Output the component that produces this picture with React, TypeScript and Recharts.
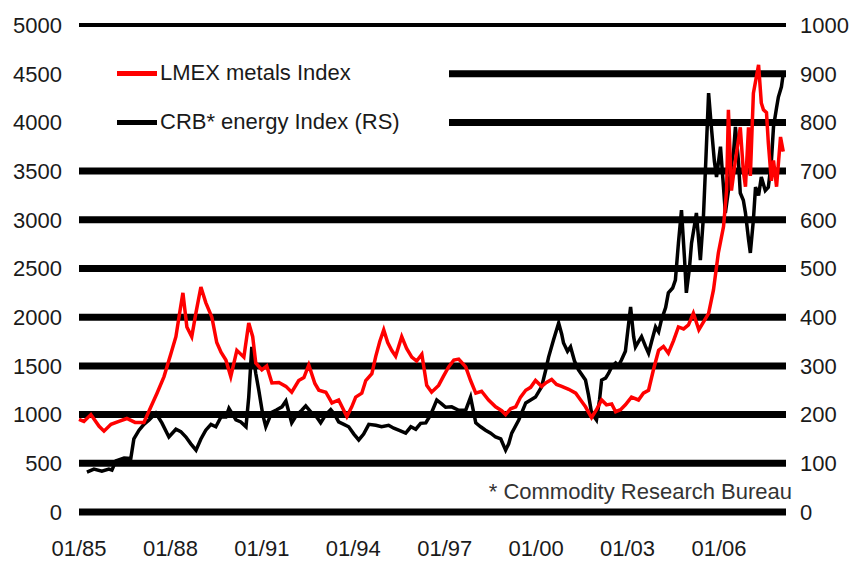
import React from "react";
import {
  LineChart,
  Line,
  XAxis,
  YAxis,
  CartesianGrid,
  Legend,
} from "recharts";

// LMEX metals index (left scale), sampled from the chart
const lmexYears = [
  1985.0, 1985.16, 1985.39, 1985.66, 1985.82, 1986.05, 1986.31, 1986.57, 1986.84, 1987.13,
  1987.36, 1987.56, 1987.79, 1988.02, 1988.18, 1988.28, 1988.41, 1988.54, 1988.7, 1988.84,
  1989.0, 1989.16, 1989.36, 1989.52, 1989.66, 1989.82, 1989.98, 1990.18, 1990.41, 1990.57,
  1990.7, 1990.8, 1991.0, 1991.16, 1991.33, 1991.56, 1991.79, 1991.98, 1992.21, 1992.38,
  1992.54, 1992.74, 1992.87, 1993.1, 1993.3, 1993.52, 1993.79, 1993.95, 1994.08, 1994.28,
  1994.41, 1994.61, 1994.74, 1994.87, 1995.0, 1995.13, 1995.26, 1995.39, 1995.59, 1995.75,
  1995.92, 1996.08, 1996.25, 1996.41, 1996.57, 1996.8, 1996.97, 1997.13, 1997.3, 1997.46,
  1997.69, 1997.85, 1998.02, 1998.21, 1998.44, 1998.67, 1998.87, 1999.0, 1999.16, 1999.33,
  1999.49, 1999.66, 1999.82, 1999.98, 2000.18, 2000.34, 2000.51, 2000.67, 2000.84, 2001.07,
  2001.3, 2001.46, 2001.62, 2001.82, 2001.98, 2002.15, 2002.31, 2002.48, 2002.61, 2002.77,
  2002.93, 2003.13, 2003.36, 2003.52, 2003.69, 2003.85, 2004.02, 2004.18, 2004.34, 2004.51,
  2004.67, 2004.84, 2005.0, 2005.16, 2005.34, 2005.49, 2005.66, 2005.82, 2005.98, 2006.15,
  2006.25, 2006.31, 2006.41, 2006.54, 2006.7, 2006.8, 2006.87, 2006.97, 2007.03, 2007.13,
  2007.3, 2007.39, 2007.46, 2007.56, 2007.62, 2007.72, 2007.79, 2007.89, 2008.02, 2008.11,
];
const lmexValues = [
  950, 930, 1000, 880, 830, 900, 930, 960, 920, 920,
  1080, 1220, 1390, 1630, 1800, 2000, 2250, 1900, 1800, 2050,
  2310, 2150, 2000, 1740, 1640, 1560, 1390, 1660, 1590, 1940,
  1800, 1530, 1460, 1500, 1325, 1330, 1290, 1230, 1350, 1380,
  1510, 1320, 1250, 1230, 1120, 1150, 980, 1080, 1180, 1220,
  1350, 1420, 1600, 1750, 1870, 1740, 1660, 1600, 1800, 1680,
  1590, 1550, 1620, 1300, 1230, 1300, 1400, 1490, 1560, 1570,
  1490, 1350, 1220, 1240, 1150, 1080, 1040, 1000, 1060, 1080,
  1180, 1250, 1280, 1350, 1290, 1330, 1360, 1310, 1290, 1260,
  1220, 1150, 1080, 970, 1050, 1150, 1100, 1110, 1030, 1050,
  1100, 1180, 1150, 1220, 1250, 1460, 1660, 1700, 1630, 1760,
  1900, 1880, 1920, 2040, 1870, 1950, 2040, 2280, 2660, 2930,
  3300, 4130, 3300, 3610, 3950, 3500, 3340, 3950, 3450, 4300,
  4590, 4200, 4130, 4100, 3790, 3400, 3610, 3340, 3850, 3700,
];

// CRB energy index (right scale)
const crbYears = [
  1985.26, 1985.49, 1985.75, 1985.98, 1986.08, 1986.21, 1986.48, 1986.7, 1986.8, 1986.97,
  1987.13, 1987.3, 1987.52, 1987.72, 1987.95, 1988.18, 1988.34, 1988.51, 1988.67, 1988.84,
  1989.0, 1989.16, 1989.33, 1989.49, 1989.66, 1989.82, 1989.92, 1990.15, 1990.31, 1990.48,
  1990.57, 1990.67, 1990.8, 1990.9, 1991.03, 1991.13, 1991.33, 1991.49, 1991.66, 1991.79,
  1991.98, 1992.15, 1992.31, 1992.44, 1992.64, 1992.8, 1992.93, 1993.1, 1993.26, 1993.39,
  1993.52, 1993.69, 1993.85, 1994.02, 1994.18, 1994.34, 1994.51, 1994.74, 1994.93, 1995.16,
  1995.33, 1995.49, 1995.72, 1995.89, 1996.05, 1996.21, 1996.38, 1996.54, 1996.74, 1996.9,
  1997.03, 1997.23, 1997.46, 1997.69, 1997.85, 1998.02, 1998.18, 1998.34, 1998.51, 1998.67,
  1998.84, 1999.0, 1999.1, 1999.2, 1999.43, 1999.66, 1999.82, 1999.98, 2000.18, 2000.31,
  2000.41, 2000.57, 2000.74, 2000.84, 2000.9, 2001.03, 2001.13, 2001.26, 2001.39, 2001.62,
  2001.72, 2001.82, 2001.98, 2002.08, 2002.15, 2002.28, 2002.38, 2002.48, 2002.61, 2002.7,
  2002.8, 2002.93, 2003.1, 2003.2, 2003.26, 2003.36, 2003.46, 2003.59, 2003.69, 2003.79,
  2003.92, 2004.02, 2004.11, 2004.25, 2004.34, 2004.48, 2004.57, 2004.67, 2004.77, 2004.87,
  2004.93, 2005.03, 2005.1, 2005.2, 2005.26, 2005.39, 2005.49, 2005.57, 2005.66, 2005.75,
  2005.85, 2005.92, 2006.05, 2006.11, 2006.21, 2006.31, 2006.38, 2006.48, 2006.54, 2006.64,
  2006.7, 2006.8, 2006.87, 2006.97, 2007.03, 2007.13, 2007.2, 2007.3, 2007.39, 2007.52,
  2007.62, 2007.72, 2007.79, 2007.89, 2007.95, 2008.05, 2008.11,
];
const crbValues = [
  82, 88, 84, 88, 86, 105, 111, 110, 150, 168,
  180, 189, 203, 183, 154, 170, 165, 154, 140, 127,
  150, 168, 180, 175, 195, 195, 213, 189, 185, 175,
  236, 339, 285, 250, 200, 175, 205, 210, 216, 228,
  183, 200, 209, 218, 203, 195, 183, 200, 210, 200,
  185, 180, 175, 160, 148, 160, 180, 178, 175, 178,
  172, 168, 162, 175, 170, 182, 183, 200, 230, 222,
  215, 216, 209, 209, 236, 183, 175, 168, 162, 154,
  150, 127, 140, 162, 189, 224, 230, 236, 257, 290,
  318, 353, 388, 365, 347, 330, 339, 310, 292, 271,
  240, 203, 189, 230, 271, 275, 285, 298, 306, 300,
  312, 330, 421, 360, 339, 350, 360, 340, 326, 350,
  380, 370, 394, 420, 450, 460, 476, 552, 620, 520,
  450, 500, 552, 590, 614, 517, 606, 723, 860, 791,
  720, 688, 750, 700, 614, 660, 702, 740, 791, 720,
  655, 640, 614, 560, 532, 600, 667, 650, 688, 660,
  667, 720, 791, 830, 852, 873, 900,
];

const xTicks = [1985, 1988, 1991, 1994, 1997, 2000, 2003, 2006];
const xTickLabels = ["01/85", "01/88", "01/91", "01/94", "01/97", "01/00", "01/03", "01/06"];
const leftTicks = [0, 500, 1000, 1500, 2000, 2500, 3000, 3500, 4000, 4500, 5000];
const rightTicks = [0, 100, 200, 300, 400, 500, 600, 700, 800, 900, 1000];

const seriesNames = ["LMEX metals Index", "CRB* energy Index (RS)"];
const seriesColors = ["#ff0000", "#000000"];
const footnote = "* Commodity Research Bureau";

const lmexData = lmexYears.map((t, i) => ({ t, v: lmexValues[i] }));
const crbData = crbYears.map((t, i) => ({ t, v: crbValues[i] }));

const FONT = '"Liberation Sans", Arial, sans-serif';
const tickStyle = { fill: "#1a1a1a", fontSize: 22, fontFamily: FONT };

function LegendBox() {
  return (
    <div style={{ background: "#fff", width: "100%", height: "100%", position: "relative" }}>
      {seriesNames.map((name, i) => (
        <div
          key={name}
          style={{
            position: "absolute",
            left: 38,
            top: 20 + i * 49,
            display: "flex",
            alignItems: "center",
            height: 26,
          }}
        >
          <span style={{ display: "inline-block", width: 40, height: 5, background: seriesColors[i] }} />
          <span
            style={{
              marginLeft: 3,
              fontFamily: FONT,
              fontSize: 22,
              color: "#1a1a1a",
              whiteSpace: "nowrap",
            }}
          >
            {name}
          </span>
        </div>
      ))}
    </div>
  );
}

function gridLine(p: any) {
  const thin = p.y1 < 30;
  return (
    <line
      key={p.key ?? `g-${p.index}`}
      x1={p.x1}
      x2={p.x2}
      y1={p.y1}
      y2={p.y2}
      stroke="#000"
      strokeWidth={thin ? 4 : 7}
    />
  );
}

export default function App() {
  return (
    <div style={{ position: "absolute", left: 0, top: 0, width: 856, height: 563, background: "#fff" }}>
      <LineChart width={856} height={563} margin={{ top: 25, right: 0, left: 0, bottom: 0 }}>
        <CartesianGrid yAxisId="left" vertical={false} horizontal={gridLine} />
        <XAxis
          type="number"
          dataKey="t"
          domain={[1985, 2008.2]}
          ticks={xTicks}
          tickFormatter={(v) => xTickLabels[xTicks.indexOf(v)] ?? ""}
          axisLine={false}
          tickLine={false}
          tickSize={0}
          tickMargin={28}
          height={51}
          tick={tickStyle}
          interval={0}
        />
        <YAxis
          yAxisId="left"
          domain={[0, 5000]}
          ticks={leftTicks}
          axisLine={false}
          tickLine={false}
          tickSize={0}
          tickMargin={17}
          width={79}
          tick={tickStyle}
          interval={0}
        />
        <YAxis
          yAxisId="right"
          orientation="right"
          domain={[0, 1000]}
          ticks={rightTicks}
          axisLine={false}
          tickLine={false}
          tickSize={0}
          tickMargin={14}
          width={70}
          tick={tickStyle}
          interval={0}
        />
        <Legend
          layout="vertical"
          align="center"
          verticalAlign="middle"
          content={() => <LegendBox />}
          wrapperStyle={{ position: "absolute", left: 79, top: 40, width: 370, height: 100 }}
        />
        <Line
          yAxisId="right"
          data={crbData}
          dataKey="v"
          name={seriesNames[1]}
          stroke={seriesColors[1]}
          strokeWidth={3.5}
          dot={false}
          isAnimationActive={false}
        />
        <Line
          yAxisId="left"
          data={lmexData}
          dataKey="v"
          name={seriesNames[0]}
          stroke={seriesColors[0]}
          strokeWidth={3.5}
          dot={false}
          isAnimationActive={false}
        />
      </LineChart>
      <div
        style={{
          position: "absolute",
          right: 64,
          top: 481,
          fontFamily: FONT,
          fontSize: 22,
          lineHeight: "22px",
          color: "#333",
          whiteSpace: "nowrap",
        }}
      >
        {footnote}
      </div>
    </div>
  );
}
